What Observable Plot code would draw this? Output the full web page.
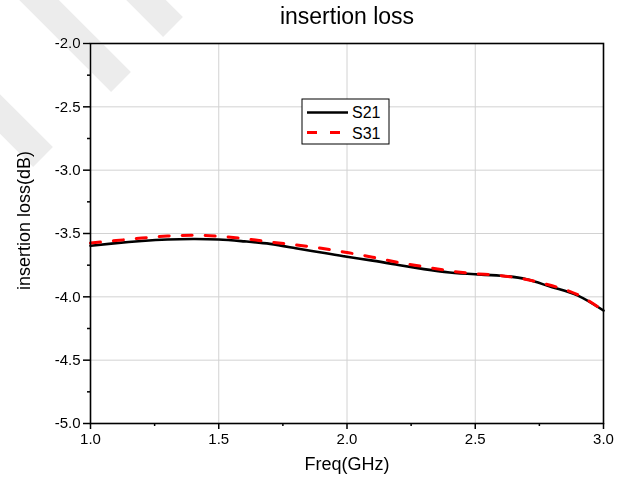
<!DOCTYPE html>
<html>
<head>
<meta charset="utf-8">
<script src="https://cdn.jsdelivr.net/npm/d3@7"></script>
<script src="https://cdn.jsdelivr.net/npm/@observablehq/plot@0.6"></script>
<style>
  html, body { margin: 0; padding: 0; background: white; }
  #wrap { position: relative; width: 620px; height: 480px; font-family: "Liberation Sans", Arial, sans-serif; }
  #wrap svg { position: absolute; left: 0; top: 0; }
  #marks { mix-blend-mode: darken; pointer-events: none; }
</style>
</head>
<body>
<div id="wrap"></div>
<script>
// ---- data ----
const freq = [1.0, 1.1, 1.2, 1.3, 1.4, 1.5, 1.6, 1.7, 1.8, 1.9, 2.0, 2.1, 2.2, 2.3, 2.4, 2.5, 2.6, 2.7, 2.8, 2.9, 3.0];
const s21 = [-3.597, -3.576, -3.559, -3.547, -3.543, -3.547, -3.562, -3.582, -3.616, -3.650, -3.684, -3.714, -3.748, -3.781, -3.808, -3.822, -3.834, -3.862, -3.924, -3.990, -4.108];
const s31 = [-3.575, -3.556, -3.536, -3.520, -3.514, -3.522, -3.540, -3.567, -3.590, -3.616, -3.650, -3.687, -3.728, -3.762, -3.795, -3.817, -3.833, -3.863, -3.913, -3.984, -4.108];
const seriesNames = ["S21", "S31"];
const xTicks = [1.0, 1.5, 2.0, 2.5, 3.0];
const xMinor = [1.25, 1.75, 2.25, 2.75];
const yTicks = [-5.0, -4.5, -4.0, -3.5, -3.0, -2.5, -2.0];
const yMinor = [-4.75, -4.25, -3.75, -3.25, -2.75, -2.25];
const titleText = "insertion loss";
const xLabel = "Freq(GHz)";
const yLabel = "insertion loss(dB)";

const rows21 = freq.map((f, i) => ({f, v: s21[i]}));
const rows31 = freq.map((f, i) => ({f, v: s31[i]}));
const fmt = d => d.toFixed(1);
const grid = "#d2d2d2";

const chart = Plot.plot({
  width: 620,
  height: 480,
  marginLeft: 90,
  marginRight: 17,
  marginTop: 43,
  marginBottom: 57,
  style: {fontFamily: '"Liberation Sans", Arial, sans-serif', background: "transparent", color: "black"},
  x: {domain: [1, 3]},
  y: {domain: [-5, -2]},
  marks: [
    Plot.gridX(xTicks.slice(1, -1), {stroke: grid, strokeOpacity: 1, strokeWidth: 1}),
    Plot.gridY(yTicks.slice(1, -1), {stroke: grid, strokeOpacity: 1, strokeWidth: 1}),
    Plot.line(rows21, {x: "f", y: "v", stroke: "black", strokeWidth: 2.6, curve: "natural"}),
    Plot.line(rows31, {x: "f", y: "v", stroke: "#ff0000", strokeWidth: 3, strokeDasharray: "10,13", curve: "natural"}),
    Plot.frame({stroke: "black", strokeWidth: 1.6}),
    Plot.axisX(xTicks, {tickSize: 6, tickPadding: 4, fontSize: 15, tickFormat: fmt, label: null, strokeWidth: 1.5}),
    Plot.axisX(xMinor, {tickSize: 3, text: null, label: null, strokeWidth: 1.5}),
    Plot.axisY(yTicks, {tickSize: 7, tickPadding: 3, fontSize: 15, tickFormat: fmt, label: null, strokeWidth: 1.5}),
    Plot.axisY(yMinor, {tickSize: 3, text: null, label: null, strokeWidth: 1.5}),
    Plot.text([titleText], {frameAnchor: "top", dy: -20, lineAnchor: "bottom", fontSize: 23, fill: "black"}),
    Plot.text([xLabel], {frameAnchor: "bottom", dy: 46, fontSize: 18, fill: "black"}),
    Plot.text([yLabel], {frameAnchor: "left", textAnchor: "middle", dx: -66, dy: -13, rotate: -90, fontSize: 18, fill: "black"})
  ]
});
document.getElementById("wrap").appendChild(chart);

// ---- legend and watermark overlay ----
const ov = d3.select("#wrap").append("svg").attr("id", "marks").attr("width", 620).attr("height", 480);
// faint diagonal watermark stripes (decoration)
const caps = [[121, 82], [173, 27], [43, 157]];
const hw = 14, back = 260;
caps.forEach(([cx, cy]) => {
  const px = hw / Math.SQRT2, py = -hw / Math.SQRT2;
  const bx = back / Math.SQRT2;
  const pts = [[cx + px, cy + py], [cx - px, cy - py], [cx - px - bx, cy - py - bx], [cx + px - bx, cy + py - bx]];
  ov.append("polygon").attr("points", pts.map(p => p.join(",")).join(" ")).attr("fill", "#ececec");
});
const lg = d3.select("#wrap").append("svg").attr("width", 620).attr("height", 480).style("pointer-events", "none");
lg.append("rect").attr("x", 302).attr("y", 99).attr("width", 87).attr("height", 45).attr("fill", "white").attr("stroke", "black").attr("stroke-width", 1);
lg.append("line").attr("x1", 307).attr("x2", 348).attr("y1", 112.5).attr("y2", 112.5).attr("stroke", "black").attr("stroke-width", 2.6);
lg.append("line").attr("x1", 307).attr("x2", 348).attr("y1", 132.5).attr("y2", 132.5).attr("stroke", "#ff0000").attr("stroke-width", 3).attr("stroke-dasharray", "10,13");
seriesNames.forEach((n, i) => {
  lg.append("text").attr("x", 352).attr("y", 118 + i * 20.5).attr("font-size", 16).attr("font-family", '"Liberation Sans", Arial, sans-serif').text(n);
});
</script>
</body>
</html>
